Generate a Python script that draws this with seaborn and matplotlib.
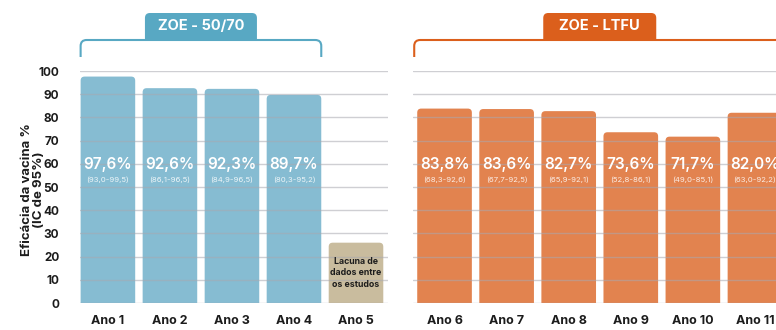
import numpy as np
import pandas as pd
import seaborn as sns
import matplotlib.pyplot as plt
from matplotlib.patches import FancyBboxPatch, PathPatch
from matplotlib.path import Path
from matplotlib.transforms import IdentityTransform

sns.set_theme(style="white")
plt.rcParams['font.family'] = ['Inter', 'DejaVu Sans']

# --- data -------------------------------------------------------------
years_zoe = ["Ano 1", "Ano 2", "Ano 3", "Ano 4"]
eff_zoe = [97.6, 92.6, 92.3, 89.7]
ci_low_zoe = [93.0, 86.1, 84.9, 80.3]
ci_high_zoe = [99.5, 96.5, 96.5, 95.2]

gap_year = "Ano 5"
gap_height = 26
gap_text = "Lacuna de\ndados entre\nos estudos"

years_ltfu = ["Ano 6", "Ano 7", "Ano 8", "Ano 9", "Ano 10", "Ano 11"]
eff_ltfu = [83.8, 83.6, 82.7, 73.6, 71.7, 82.0]
ci_low_ltfu = [68.3, 67.7, 65.9, 52.8, 49.0, 63.0]
ci_high_ltfu = [92.6, 92.5, 92.1, 86.1, 85.1, 92.2]

yticks = list(range(0, 101, 10))
title_zoe = "ZOE - 50/70"
title_ltfu = "ZOE - LTFU"
ylabel = "Eficácia da vacina %\n(IC de 95%)"

# --- style ------------------------------------------------------------
BLUE = "#86bcd2"
ORANGE = "#e2834f"
TAN = "#c9bc9e"
TAB_BLUE = "#58a8c3"
TAB_ORANGE = "#db5f1c"
GRID = "#a8a8b0"
TEXT = "#1c1c1c"

W, H = 776, 330
fig = plt.figure(figsize=(W / 100, H / 100), dpi=100)


def px_axes(x0, y_top, x1, y_bot):
    return [x0 / W, 1 - y_bot / H, (x1 - x0) / W, (y_bot - y_top) / H]


ax1 = fig.add_axes(px_axes(80, 71, 388, 303))
ax2 = fig.add_axes(px_axes(413, 71, 786, 303))

df1 = pd.DataFrame({
    "ano": years_zoe + [gap_year],
    "val": eff_zoe + [gap_height],
    "grupo": ["zoe"] * len(years_zoe) + ["gap"],
})
df2 = pd.DataFrame({"ano": years_ltfu, "val": eff_ltfu, "grupo": ["ltfu"] * len(years_ltfu)})

BAR_W = 0.88
sns.barplot(data=df1, x="ano", y="val", hue="grupo", palette={"zoe": BLUE, "gap": TAN},
            width=BAR_W, dodge=False, legend=False, saturation=1, ax=ax1)
sns.barplot(data=df2, x="ano", y="val", hue="grupo", palette={"ltfu": ORANGE},
            width=BAR_W, dodge=False, legend=False, saturation=1, ax=ax2)

ax1.set_xlim(-0.45, 4.516)
ax2.set_xlim(-0.508, 5.5)

for ax in (ax1, ax2):
    ax.set_ylim(0, 100)
    ax.set_yticks(yticks)
    ax.set_xlabel("")
    ax.set_ylabel("")
    ax.grid(axis="y", color=GRID, alpha=0.55, lw=1.0)
    ax.grid(axis="x", visible=False)
    ax.set_axisbelow(False)
    for s in ax.spines.values():
        s.set_visible(False)
    ax.tick_params(axis="x", length=0, pad=9, labelsize=9, labelcolor=TEXT)
    for lbl in ax.get_xticklabels():
        lbl.set_fontweight("bold")

ax1.tick_params(axis="y", length=0, pad=15, labelsize=8.5, labelcolor=TEXT)
for lbl in ax1.get_yticklabels():
    lbl.set_fontweight("bold")
ax2.tick_params(axis="y", left=False, labelleft=False)


# round the top corners of each bar (bottom is hidden below the axis)
def round_bars(ax, radius_px=4):
    bb = ax.get_window_extent()
    x0, x1 = ax.get_xlim()
    y0, y1 = ax.get_ylim()
    xpp = (x1 - x0) / bb.width
    ypp = (y1 - y0) / bb.height
    for p in list(ax.patches):
        x, y, w, h = p.get_x(), p.get_y(), p.get_width(), p.get_height()
        fc = p.get_facecolor()
        p.remove()
        ry = radius_px * ypp
        ax.add_patch(FancyBboxPatch(
            (x, y - ry), w, h + ry,
            boxstyle=f"round,pad=0,rounding_size={radius_px * xpp}",
            mutation_aspect=ypp / xpp, fc=fc, ec="none", zorder=1))


round_bars(ax1)
round_bars(ax2)


def fmt(v):
    return f"{v:.1f}".replace(".", ",")


def value_labels(ax, vals, lows, highs):
    for i, (v, lo, hi) in enumerate(zip(vals, lows, highs)):
        ax.text(i, 59.5, fmt(v) + "%", ha="center", va="center", color="white",
                fontsize=11, fontweight="semibold", zorder=4)
        ax.text(i, 53.2, f"({fmt(lo)}-{fmt(hi)})", ha="center", va="center",
                color="white", alpha=0.85, fontsize=5.6, zorder=4)


value_labels(ax1, eff_zoe, ci_low_zoe, ci_high_zoe)
value_labels(ax2, eff_ltfu, ci_low_ltfu, ci_high_ltfu)

ax1.text(len(years_zoe), gap_height / 2, gap_text, ha="center", va="center",
         fontsize=6.3, fontweight="bold", color=TEXT, linespacing=1.35, zorder=4)

fig.text(33 / W, 1 - 190 / H, ylabel, rotation=90, ha="center", va="center",
         multialignment="center", fontsize=9.5, fontweight="bold", color=TEXT,
         linespacing=0.9)


# --- brackets and tabs (display pixels, origin bottom-left) ------------
def to_px(ax, x):
    return ax.transData.transform((x, 0))[0]


def bracket(x0, x1, y_top, y_bot, color, r=6, right_drop=True):
    verts = [(x0, y_bot), (x0, y_top - r), (x0, y_top), (x0 + r, y_top)]
    codes = [Path.MOVETO, Path.LINETO, Path.CURVE3, Path.CURVE3]
    if right_drop:
        verts += [(x1 - r, y_top), (x1, y_top), (x1, y_top - r), (x1, y_bot)]
        codes += [Path.LINETO, Path.CURVE3, Path.CURVE3, Path.LINETO]
    else:
        verts += [(x1, y_top)]
        codes += [Path.LINETO]
    fig.add_artist(PathPatch(Path(verts, codes), transform=IdentityTransform(),
                             fill=False, ec=color, lw=1.5, capstyle="butt"))


def tab(cx, y_bot, w, h, color, label, r=5):
    x0, x1, y1 = cx - w / 2, cx + w / 2, y_bot + h
    verts = [(x0, y_bot), (x0, y1 - r), (x0, y1), (x0 + r, y1),
             (x1 - r, y1), (x1, y1), (x1, y1 - r), (x1, y_bot), (x0, y_bot)]
    codes = [Path.MOVETO, Path.LINETO, Path.CURVE3, Path.CURVE3,
             Path.LINETO, Path.CURVE3, Path.CURVE3, Path.LINETO, Path.CLOSEPOLY]
    fig.add_artist(PathPatch(Path(verts, codes), transform=IdentityTransform(),
                             fc=color, ec="none"))
    fig.text(cx / W, (y_bot + h / 2) / H, label, ha="center", va="center",
             color="white", fontsize=10.5, fontweight="bold")


Y_LINE = H - 40
Y_DROP = H - 57
half = BAR_W / 2

bracket(to_px(ax1, -half), to_px(ax1, len(years_zoe) - 1 + half), Y_LINE, Y_DROP, TAB_BLUE)
tab(to_px(ax1, (len(years_zoe) - 1) / 2), Y_LINE, 112, 27, TAB_BLUE, title_zoe)

bracket(to_px(ax2, -half) - 3, W + 20, Y_LINE, Y_DROP, TAB_ORANGE, right_drop=False)
tab(to_px(ax2, (len(years_ltfu) - 1) / 2), Y_LINE, 113, 27, TAB_ORANGE, title_ltfu)

fig.savefig("out.png", dpi=100)
